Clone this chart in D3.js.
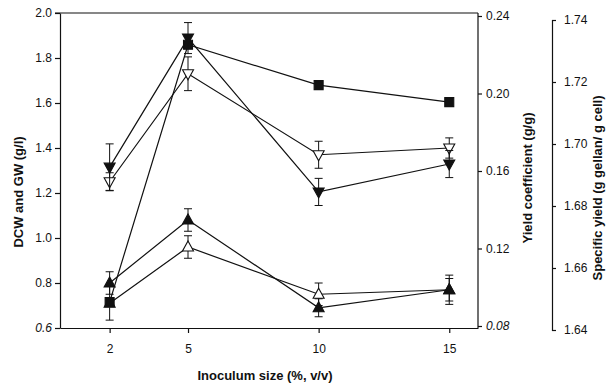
<!DOCTYPE html>
<html>
<head>
<meta charset="utf-8">
<script src="https://cdn.jsdelivr.net/npm/d3@7"></script>
<style>
  body { margin: 0; background: #fff; }
  svg { display: block; font-family: Arial, "Liberation Sans", sans-serif; }
  .tick text { font-size: 12px; fill: #111; }
  .axis path, .axis line { stroke: #111; stroke-width: 1.2; }
  .title { font-size: 13px; font-weight: bold; fill: #111; }
</style>
</head>
<body>
<svg id="chart" width="610" height="387"></svg>
<script>
// Inoculum size (%, v/v)
var inoculum = [2, 5, 10, 15];

// left axis (g/l)
var filledTri = [0.80, 1.08, 0.69, 0.77];
var filledTriErr = [0.05, 0.05, 0.04, 0.05];
var openTri = [0.71, 0.96, 0.75, 0.77];
var openTriErr = [0.075, 0.05, 0.05, 0.065];
var openDown = [1.25, 1.73, 1.37, 1.40];
var openDownErr = [0.04, 0.075, 0.06, 0.045];

// yield coefficient axis (g/g)
var filledDown = [0.162, 0.2286, 0.1492, 0.1636];
var filledDownErr = [0.012, 0.008, 0.007, 0.007];

// specific yield axis (g gellan/ g cell), no error bars
var square = [1.649, 1.732, 1.719, 1.7135];

var xTicks = [2, 5, 10, 15];
var leftTicks = [0.6, 0.8, 1.0, 1.2, 1.4, 1.6, 1.8, 2.0];
var yieldTicks = [0.08, 0.12, 0.16, 0.20, 0.24];
var specTicks = [1.64, 1.66, 1.68, 1.70, 1.72, 1.74];

var svg = d3.select("#chart");

// plot box (note: "top" is taken by window.top, so pTop etc.)
var pLeft = 60, pRight = 478, pTop = 13, pBottom = 328;

var x = d3.scaleLinear().domain([0.1, 16.1]).range([pLeft, pRight]);
var yL = d3.scaleLinear().domain([0.6, 2.0]).range([pBottom, pTop]);
var yR = d3.scaleLinear().domain([0.08, 0.24]).range([326, 16]);
var yS = d3.scaleLinear().domain([1.64, 1.74]).range([330, 20]);

// frame top line
svg.append("line")
  .attr("x1", pLeft - 5).attr("x2", pRight)
  .attr("y1", pTop).attr("y2", pTop)
  .attr("stroke", "#111").attr("stroke-width", 1.2);

// axes
svg.append("g").attr("class", "axis")
  .attr("transform", "translate(0," + pBottom + ")")
  .call(d3.axisBottom(x).tickValues(xTicks).tickFormat(d3.format("d"))
    .tickSize(5).tickSizeOuter(0).tickPadding(11));

var gl = svg.append("g").attr("class", "axis")
  .attr("transform", "translate(" + pLeft + ",0)")
  .call(d3.axisLeft(yL).tickValues(leftTicks).tickFormat(d3.format(".1f"))
    .tickSize(5).tickSizeOuter(0).tickPadding(3));
gl.selectAll(".tick text").filter(function(d) { return d === 0.6; })
  .style("font-style", "italic");

var gr = svg.append("g").attr("class", "axis")
  .attr("transform", "translate(" + pRight + ",0)")
  .call(d3.axisRight(yR).tickValues(yieldTicks).tickFormat(d3.format(".2f"))
    .tickSize(4).tickSizeOuter(0).tickPadding(4));
gr.select(".domain").attr("d", "M0," + pTop + "V" + pBottom);
gr.selectAll(".tick text").filter(function(d) { return d === 0.08; })
  .style("font-style", "italic");

var gs = svg.append("g").attr("class", "axis")
  .attr("transform", "translate(552,0)")
  .call(d3.axisRight(yS).tickValues(specTicks).tickFormat(d3.format(".2f"))
    .tickSize(4).tickSizeOuter(4).tickPadding(8));
gs.selectAll("path, line").attr("stroke-width", 1);

// titles
svg.append("text").attr("class", "title")
  .attr("transform", "translate(23,192) rotate(-90)")
  .attr("text-anchor", "middle").text("DCW and GW (g/l)");
svg.append("text").attr("class", "title")
  .attr("transform", "translate(532,178) rotate(-90)")
  .attr("text-anchor", "middle").text("Yield coefficient (g/g)");
svg.append("text").attr("class", "title")
  .attr("transform", "translate(602,188) rotate(-90)")
  .attr("text-anchor", "middle").text("Specific yield (g gellan/ g cell)");
svg.append("text").attr("class", "title")
  .attr("x", 265).attr("y", 380)
  .attr("text-anchor", "middle").text("Inoculum size (%, v/v)");

// series, in drawing order (later ones on top)
var series = [
  {vals: openTri, err: openTriErr, y: yL, shape: "up", fill: "#fff"},
  {vals: square, err: null, y: yS, shape: "square", fill: "#111"},
  {vals: filledTri, err: filledTriErr, y: yL, shape: "up", fill: "#111"},
  {vals: openDown, err: openDownErr, y: yL, shape: "down", fill: "#fff"},
  {vals: filledDown, err: filledDownErr, y: yR, shape: "down", fill: "#111"}
];

var line = d3.line();

series.forEach(function(s) {
  var pts = inoculum.map(function(d, i) { return [x(d), s.y(s.vals[i])]; });
  var g = svg.append("g");

  g.append("path")
    .attr("d", line(pts))
    .attr("fill", "none")
    .attr("stroke", "#111")
    .attr("stroke-width", 1.2);

  if (s.err) {
    inoculum.forEach(function(d, i) {
      var cx = x(d);
      var y1 = s.y(s.vals[i] + s.err[i]), y2 = s.y(s.vals[i] - s.err[i]);
      g.append("path")
        .attr("d", "M" + cx + "," + y1 + "V" + y2 +
          "M" + (cx - 4) + "," + y1 + "H" + (cx + 4) +
          "M" + (cx - 4) + "," + y2 + "H" + (cx + 4))
        .attr("stroke", "#111").attr("stroke-width", 1).attr("fill", "none");
    });
  }

  g.selectAll(".m").data(pts).enter().append("path")
    .attr("d", function(p) {
      var cx = p[0], cy = p[1];
      if (s.shape === "square")
        return "M" + (cx - 4.5) + "," + (cy - 4.5) + "h9v9h-9Z";
      if (s.shape === "up")
        return "M" + cx + "," + (cy - 6) + "L" + (cx + 5.5) + "," + (cy + 4) + "L" + (cx - 5.5) + "," + (cy + 4) + "Z";
      return "M" + cx + "," + (cy + 6) + "L" + (cx + 5.5) + "," + (cy - 4) + "L" + (cx - 5.5) + "," + (cy - 4) + "Z";
    })
    .attr("fill", s.fill)
    .attr("stroke", "#111")
    .attr("stroke-width", 1.1);
});
</script>
</body>
</html>
